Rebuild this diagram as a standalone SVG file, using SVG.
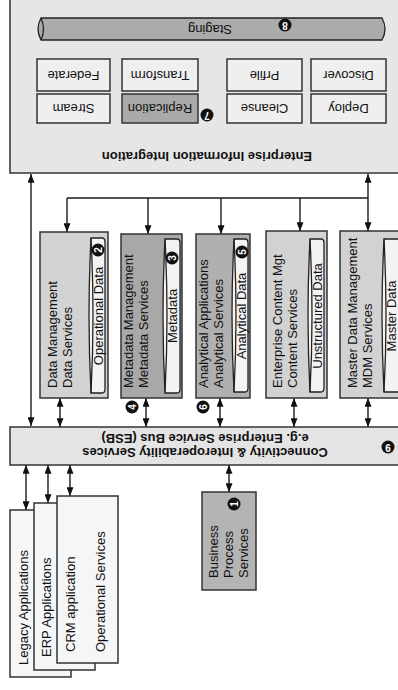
<svg xmlns="http://www.w3.org/2000/svg" width="398" height="690" viewBox="0 0 398 690">
<defs>
<marker id="ah" viewBox="0 0 10 8" refX="10" refY="4" markerWidth="9" markerHeight="7" markerUnits="userSpaceOnUse" orient="auto-start-reverse">
<path d="M0,0 L10,4 L0,8 Z" fill="#111"/>
</marker>
<style>
.bx{stroke:#333;stroke-width:1.5}
.cyl{fill:#f3f3f3;stroke:#222;stroke-width:1.3}
.face{fill:none;stroke:#222;stroke-width:1.3}
.t{font-family:"Liberation Sans",Arial,sans-serif;font-size:13px;fill:#111}
.b{font-family:"Liberation Sans",Arial,sans-serif;font-size:13px;font-weight:bold;fill:#111}
.bd{fill:#111}
.bn{font-family:"Liberation Sans",Arial,sans-serif;font-size:10px;font-weight:bold;fill:#fff}
.cn{stroke:#1a1a1a;stroke-width:1.4;fill:none}
</style>
</defs>
<rect width="398" height="690" fill="#fff"/>

<g id="eii">
<rect class="bx" x="10" y="-5" width="400" height="178" fill="#e6e6e6"/>
<text class="b" text-anchor="middle" transform="translate(207,152) rotate(180)">Enterprise Information Integration</text>
</g>
<g id="staging">
<path class="cyl" d="M41,18 H382 Q388,29 382,40 H41 Q35,29 41,18 Z" style="fill:#ababab"/>
<path class="face" d="M41,18 Q46,29 41,40"/>
<text class="t" text-anchor="middle" transform="translate(210,24.5) rotate(180)">Staging</text>
<circle class="bd" cx="285" cy="25" r="6.5"/>
<text class="bn" text-anchor="middle" transform="translate(285,25) rotate(180)" dy="3.5">8</text>
</g>
<g id="federate"><rect class="bx" x="37" y="59" width="73" height="32" fill="#efefef"/><text class="t" text-anchor="middle" transform="translate(73.5,70.5) rotate(180)">Federate</text></g>
<g id="transform"><rect class="bx" x="122" y="59" width="76" height="32" fill="#efefef"/><text class="t" text-anchor="middle" transform="translate(160,70.5) rotate(180)">Transform</text></g>
<g id="prfile"><rect class="bx" x="227" y="59" width="75" height="32" fill="#efefef"/><text class="t" text-anchor="middle" transform="translate(264.5,70.5) rotate(180)">Prfile</text></g>
<g id="discover"><rect class="bx" x="311" y="59" width="75" height="32" fill="#efefef"/><text class="t" text-anchor="middle" transform="translate(348.5,70.5) rotate(180)">Discover</text></g>
<g id="stream"><rect class="bx" x="37" y="94" width="73" height="29" fill="#efefef"/><text class="t" text-anchor="middle" transform="translate(73.5,104) rotate(180)">Stream</text></g>
<g id="replication"><rect class="bx" x="122" y="94" width="76" height="29" fill="#a9a9a9"/><text class="t" text-anchor="middle" transform="translate(160,104) rotate(180)">Replication</text>
<circle class="bd" cx="207" cy="115" r="6.5"/><text class="bn" text-anchor="middle" transform="translate(207,115) rotate(180)" dy="3.5">7</text></g>
<g id="cleanse"><rect class="bx" x="227" y="94" width="75" height="29" fill="#efefef"/><text class="t" text-anchor="middle" transform="translate(264.5,104) rotate(180)">Cleanse</text></g>
<g id="deploy"><rect class="bx" x="311" y="94" width="75" height="29" fill="#efefef"/><text class="t" text-anchor="middle" transform="translate(348.5,104) rotate(180)">Deploy</text></g>

<g id="connectors">
<path class="cn" d="M31,174 V426" marker-start="url(#ah)" marker-end="url(#ah)"/>
<path class="cn" d="M368,174 V231" marker-start="url(#ah)" marker-end="url(#ah)"/>
<path class="cn" d="M67,198 H368"/>
<path class="cn" d="M67,198 V232" marker-end="url(#ah)"/>
<path class="cn" d="M148,198 V234" marker-end="url(#ah)"/>
<path class="cn" d="M221,198 V234" marker-end="url(#ah)"/>
<path class="cn" d="M300,198 V231" marker-end="url(#ah)"/>
<path class="cn" d="M60,398 V427" marker-start="url(#ah)" marker-end="url(#ah)"/>
<path class="cn" d="M146,398 V427" marker-start="url(#ah)" marker-end="url(#ah)"/>
<path class="cn" d="M220,398 V427" marker-start="url(#ah)" marker-end="url(#ah)"/>
<path class="cn" d="M294,398 V427" marker-start="url(#ah)" marker-end="url(#ah)"/>
<path class="cn" d="M368,398 V427" marker-start="url(#ah)" marker-end="url(#ah)"/>
<path class="cn" d="M26,465 V510" marker-start="url(#ah)" marker-end="url(#ah)"/>
<path class="cn" d="M48,465 V503" marker-start="url(#ah)" marker-end="url(#ah)"/>
<path class="cn" d="M70,465 V496" marker-start="url(#ah)" marker-end="url(#ah)"/>
<path class="cn" d="M229,465 V492" marker-start="url(#ah)" marker-end="url(#ah)"/>
</g>

<g id="dm">
<rect class="bx" x="40" y="232" width="68" height="166" fill="#d2d2d2"/>
<text class="t" transform="translate(57,388) rotate(-90)">Data Management</text>
<text class="t" transform="translate(72,388) rotate(-90)">Data Services</text>
<path class="cyl" d="M91,238 H102 Q105,238 105,242 V389 Q105,393 102,393 H91 Q87,315.5 91,238 Z"/>
<path class="face" d="M91,238 Q95,315.5 91,393"/>
<text class="t" text-anchor="middle" transform="translate(102.5,316) rotate(-90)">Operational Data</text>
<circle class="bd" cx="98" cy="250" r="6.5"/><text class="bn" text-anchor="middle" transform="translate(98,250) rotate(-90)" dy="3.5">2</text>
</g>
<g id="mm">
<rect class="bx" x="121" y="234" width="61" height="164" fill="#a8a8a8"/>
<text class="t" transform="translate(133,388) rotate(-90)">Metadata Management</text>
<text class="t" transform="translate(148,388) rotate(-90)">Metadata  Services</text>
<path class="cyl" d="M165,239 H177 Q180,239 180,243 V389 Q180,393 177,393 H165 Q161,316 165,239 Z"/>
<path class="face" d="M165,239 Q169,316 165,393"/>
<text class="t" text-anchor="middle" transform="translate(177,316) rotate(-90)">Metadata</text>
<circle class="bd" cx="172" cy="258" r="6.5"/><text class="bn" text-anchor="middle" transform="translate(172,258) rotate(-90)" dy="3.5">3</text>
<circle class="bd" cx="132" cy="407" r="6.5"/><text class="bn" text-anchor="middle" transform="translate(132,407) rotate(-90)" dy="3.5">4</text>
</g>
<g id="aa">
<rect class="bx" x="196" y="234" width="54" height="164" fill="#b0b0b0"/>
<text class="t" transform="translate(208,388) rotate(-90)">Analytical  Applications</text>
<text class="t" transform="translate(223,388) rotate(-90)">Analytical  Services</text>
<path class="cyl" d="M234,239 H245 Q248,239 248,243 V388 Q248,392 245,392 H234 Q230,315.5 234,239 Z"/>
<path class="face" d="M234,239 Q238,315.5 234,392"/>
<text class="t" text-anchor="middle" transform="translate(246,316) rotate(-90)">Analytical Data</text>
<circle class="bd" cx="242" cy="252" r="6.5"/><text class="bn" text-anchor="middle" transform="translate(242,252) rotate(-90)" dy="3.5">5</text>
<circle class="bd" cx="203" cy="407" r="6.5"/><text class="bn" text-anchor="middle" transform="translate(203,407) rotate(-90)" dy="3.5">6</text>
</g>
<g id="ecm">
<rect class="bx" x="266" y="231" width="61" height="167" fill="#d2d2d2"/>
<text class="t" transform="translate(282,388) rotate(-90)">Enterprise Content Mgt</text>
<text class="t" transform="translate(297,388) rotate(-90)">Content Services</text>
<path class="cyl" d="M310,239 H321 Q324,239 324,243 V388 Q324,392 321,392 H310 Q306,315.5 310,239 Z"/>
<path class="face" d="M310,239 Q314,315.5 310,392"/>
<text class="t" text-anchor="middle" transform="translate(322,316) rotate(-90)">Unstructured Data</text>
</g>
<g id="mdm">
<rect class="bx" x="340" y="231" width="70" height="167" fill="#d2d2d2"/>
<text class="t" transform="translate(357,388) rotate(-90)">Master Data Management</text>
<text class="t" transform="translate(372,388) rotate(-90)">MDM Services</text>
<path class="cyl" d="M384,239 H405 V392 H384 Q380,315.5 384,239 Z"/>
<path class="face" d="M384,239 Q388,315.5 384,392"/>
<text class="t" text-anchor="middle" transform="translate(396,316) rotate(-90)">Master Data</text>
</g>

<g id="esb">
<rect class="bx" x="10" y="427" width="400" height="38" fill="#e4e4e4"/>
<text class="b" text-anchor="middle" transform="translate(205,448) rotate(180)">Connectivity &amp; Interoperability Services</text>
<text class="b" text-anchor="middle" transform="translate(205,434) rotate(180)">e.g. Enterprise Service Bus (ESB)</text>
<circle class="bd" cx="388" cy="447" r="6.5"/><text class="bn" text-anchor="middle" transform="translate(388,447) rotate(180)" dy="3.5">9</text>
</g>

<g id="bps">
<rect class="bx" x="202" y="492" width="54" height="98" fill="#b4b4b4"/>
<text class="t" transform="translate(218,578) rotate(-90)">Business</text>
<text class="t" transform="translate(233,578) rotate(-90)">Process</text>
<text class="t" transform="translate(248,578) rotate(-90)">Services</text>
<circle class="bd" cx="234" cy="504" r="6.5"/><text class="bn" text-anchor="middle" transform="translate(234,504) rotate(-90)" dy="3.5">1</text>
</g>

<g id="legacy"><rect class="bx" x="10" y="510" width="61" height="167" fill="#f5f6f8"/><text class="t" transform="translate(28,665) rotate(-90)">Legacy Applications</text></g>
<g id="erp"><rect class="bx" x="34" y="503" width="61" height="167" fill="#f5f6f8"/><text class="t" transform="translate(51,657) rotate(-90)">ERP Applications</text></g>
<g id="crm"><rect class="bx" x="57" y="496" width="61" height="167" fill="#f5f6f8"/>
<text class="t" transform="translate(75,652) rotate(-90)">CRM application</text>
<text class="t" transform="translate(105,652) rotate(-90)">Operational  Services</text></g>
</svg>
